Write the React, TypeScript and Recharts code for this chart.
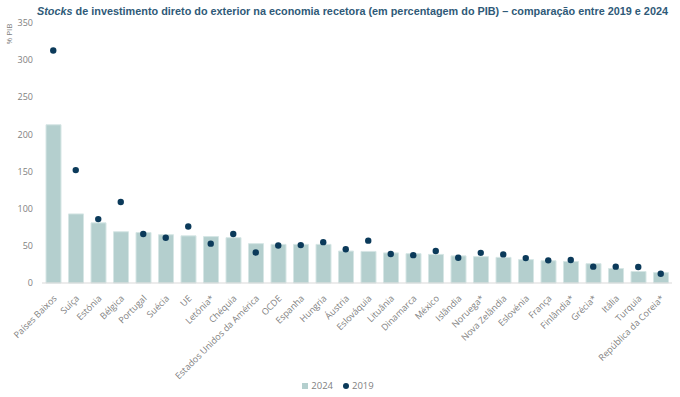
import { ComposedChart, Bar, Scatter, XAxis, YAxis, Legend } from "recharts";

const countries = [
  "Países Baixos", "Suíça", "Estónia", "Bélgica", "Portugal", "Suécia", "UE", "Letónia*",
  "Chéquia", "Estados Unidos da América", "OCDE", "Espanha", "Hungria", "Áustria", "Eslováquia",
  "Lituânia", "Dinamarca", "México", "Islândia", "Noruega*", "Nova Zelândia", "Eslovénia",
  "França", "Finlândia*", "Grécia*", "Itália", "Turquia", "República da Coreia*",
];

const values2024 = [
  213, 93, 81, 69, 68, 65, 63.5, 62.5, 61, 53, 52, 52, 52, 43, 42.5, 40.5, 39.5, 38.5, 36.5,
  35.5, 34.5, 31.5, 30, 29, 26, 19.5, 15.5, 14,
];

const values2019 = [
  313, 152, 86, 109, 66, 61, 76, 53, 66, 41, 50.5, 51, 55, 45.5, 57, 39, 37.5, 43, 34, 40.5,
  38.5, 33.5, 30.5, 31, 22, 22, 21.5, 12.5,
];

const yTicks = [0, 50, 100, 150, 200, 250, 300, 350];

const data = countries.map((name, i) => ({
  name,
  v2024: values2024[i],
  v2019: values2019[i],
}));

const TEXT_GRAY = "#7f7f7f";

const XTick = (props: any) => {
  const { x, y, payload } = props;
  return (
    <text
      x={x + 4}
      y={y + 8}
      textAnchor="end"
      transform={`rotate(-45, ${x + 4}, ${y + 8})`}
      fontSize={9}
      fill={TEXT_GRAY}
      fontFamily="Open Sans"
    >
      {payload.value}
    </text>
  );
};

const renderLegend = () => (
  <div
    style={{
      display: "flex",
      justifyContent: "center",
      alignItems: "center",
      fontFamily: "Open Sans",
      fontSize: 9.5,
      color: TEXT_GRAY,
      gap: 10,
      paddingTop: 6,
      paddingLeft: 4,
    }}
  >
    <span style={{ display: "flex", alignItems: "center", gap: 3 }}>
      <span style={{ width: 6, height: 6, background: "#b4cfce", display: "inline-block" }} />
      2024
    </span>
    <span style={{ display: "flex", alignItems: "center", gap: 3 }}>
      <span
        style={{ width: 6, height: 6, borderRadius: 3, background: "#0b3a5a", display: "inline-block" }}
      />
      2019
    </span>
  </div>
);

export default function App() {
  return (
    <div style={{ position: "absolute", left: 0, top: 0, width: 680, height: 397, background: "#fff" }}>
      <svg width={680} height={24} style={{ position: "absolute", left: 0, top: 0 }}>
        <text
          x={37}
          y={15}
          fontFamily="Liberation Sans"
          fontWeight="bold"
          fontSize={11}
          fill="#2f5a78"
          textLength={631}
          lengthAdjust="spacingAndGlyphs"
        >
          <tspan fontStyle="italic">Stocks</tspan>
          {" de investimento direto do exterior na economia recetora (em percentagem do PIB) – comparação entre 2019 e 2024"}
        </text>
      </svg>
      <svg width={20} height={60} style={{ position: "absolute", left: 0, top: 10 }}>
        <text
          x={12}
          y={24}
          transform="rotate(-90, 12, 24)"
          textAnchor="middle"
          fontFamily="Open Sans"
          fontSize={8}
          fill={TEXT_GRAY}
        >
          % PIB
        </text>
      </svg>
      <div style={{ position: "absolute", left: 0, top: 0 }}>
        <ComposedChart
          width={680}
          height={397}
          data={data}
          margin={{ top: 23, right: 8, left: 0, bottom: 0 }}
        >
          <XAxis
            dataKey="name"
            interval={0}
            height={90}
            tick={<XTick />}
            tickLine={false}
            axisLine={{ stroke: "#d9d9d9" }}
          />
          <YAxis
            width={42}
            domain={[0, 350]}
            ticks={yTicks}
            tickLine={false}
            axisLine={false}
            tickSize={0}
            tickMargin={9}
            tick={{ fontSize: 9, fill: TEXT_GRAY, fontFamily: "Open Sans" }}
          />
          <Legend verticalAlign="bottom" height={24} content={renderLegend} />
          <Bar
            dataKey="v2024"
            name="2024"
            barSize={15}
            fill="#b4cfce"
            stroke="#d6e6e5"
            strokeWidth={1}
            isAnimationActive={false}
          />
          <Scatter
            dataKey="v2019"
            name="2019"
            fill="#0b3a5a"
            shape={(p: any) => <circle cx={p.cx} cy={p.cy} r={3.2} fill="#0b3a5a" />}
            isAnimationActive={false}
          />
        </ComposedChart>
      </div>
    </div>
  );
}
